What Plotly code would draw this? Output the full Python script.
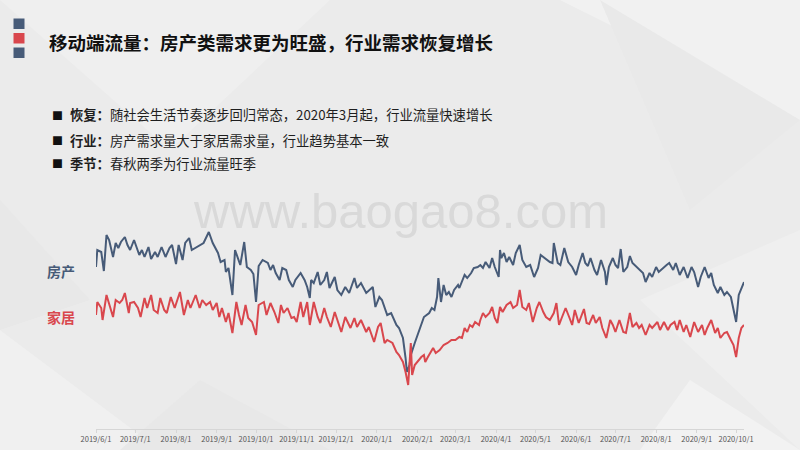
import pandas as pd
import plotly.graph_objects as go

# ---------------- data ----------------
start_date = "2019-06-01"

fc_day = [0, 1, 4, 6, 8, 10, 13, 15, 17, 19, 22, 24, 26, 29, 33, 35, 37, 40, 42, 45, 47, 50, 53, 56, 58,
          61, 63, 66, 68, 71, 73, 79, 82, 86, 89, 93, 95, 98, 99, 101, 104, 106, 108, 110, 113, 115, 118,
          120, 122, 124, 127, 131, 133, 135, 137, 140, 142, 145, 147, 150, 152, 156, 159, 161, 163, 164,
          166, 169, 171, 174, 176, 178, 182, 184, 187, 190, 193, 197, 199, 202, 206, 211, 213, 216, 218,
          220, 222, 225, 229, 231, 234, 236, 237, 239, 240, 243, 245, 248, 250, 254, 256, 258, 260, 261,
          263, 265, 267, 269, 271, 273, 276, 277, 281, 283, 286, 288, 291, 293, 295, 297, 300, 302, 304,
          307, 308, 309, 311, 313, 315, 318, 320, 323, 325, 328, 331, 334, 337, 339, 342, 346, 348, 349,
          352, 354, 357, 360, 363, 366, 368, 371, 373, 375, 377, 380, 382, 385, 388, 389, 391, 394, 396,
          398, 400, 402, 405, 407, 409, 412, 414, 417, 419, 422, 424, 427, 429, 432, 435, 437, 440, 442,
          445, 448, 451, 454, 456, 459, 461, 464, 467, 469, 471, 474, 476, 479, 481, 484, 486, 488, 490,
          492, 494]
fc_val = [133, 150, 148, 129, 165, 160, 143, 157, 152, 158, 163, 155, 150, 160, 145, 150, 143, 153, 141,
          148, 143, 153, 143, 152, 155, 136, 155, 140, 157, 162, 150, 155, 157, 168, 157, 147, 138, 140,
          128, 132, 105, 150, 142, 135, 158, 133, 130, 126, 98, 134, 140, 137, 130, 135, 127, 120, 132,
          130, 120, 113, 120, 127, 120, 113, 102, 120, 117, 128, 115, 120, 128, 112, 123, 110, 105, 113,
          107, 122, 112, 117, 107, 113, 93, 103, 100, 93, 85, 87, 75, 72, 62, 42, 28, 35, 45, 57, 65, 75,
          83, 87, 92, 90, 103, 122, 98, 115, 105, 108, 103, 110, 115, 112, 125, 122, 127, 132, 133, 135,
          132, 138, 132, 142, 133, 123, 150, 142, 147, 138, 143, 135, 147, 155, 140, 133, 135, 123, 132,
          145, 142, 138, 137, 157, 137, 135, 152, 138, 133, 125, 135, 147, 137, 134, 142, 130, 125, 140,
          128, 115, 133, 142, 135, 132, 151, 128, 133, 144, 137, 133, 130, 127, 118, 127, 123, 133, 128,
          132, 135, 137, 130, 137, 125, 133, 122, 133, 128, 113, 123, 133, 122, 127, 115, 107, 113, 105,
          108, 103, 90, 78, 105, 112, 118]

jj_day = [0, 1, 4, 5, 8, 10, 13, 15, 18, 20, 22, 25, 26, 29, 32, 34, 37, 39, 42, 44, 47, 49, 52, 54, 57,
          60, 64, 67, 70, 72, 76, 79, 81, 84, 87, 89, 92, 94, 96, 99, 101, 104, 107, 109, 111, 114, 116,
          119, 122, 124, 128, 130, 133, 136, 139, 141, 143, 146, 149, 151, 153, 156, 158, 161, 163, 166,
          169, 171, 174, 176, 179, 182, 185, 187, 190, 194, 197, 199, 202, 206, 208, 212, 215, 217, 220,
          222, 226, 229, 231, 234, 236, 238, 240, 241, 243, 246, 248, 250, 251, 253, 257, 259, 262, 265,
          268, 271, 274, 277, 279, 281, 283, 285, 287, 289, 292, 293, 295, 297, 300, 302, 304, 306, 308,
          310, 313, 316, 318, 321, 323, 325, 328, 330, 333, 336, 338, 341, 343, 346, 349, 351, 353, 355,
          358, 361, 363, 365, 368, 372, 374, 376, 379, 381, 384, 386, 389, 392, 394, 396, 399, 402, 404,
          407, 409, 412, 414, 416, 419, 422, 424, 428, 430, 433, 436, 438, 441, 443, 445, 448, 450, 453,
          456, 459, 462, 464, 466, 469, 472, 474, 476, 479, 481, 484, 486, 488, 490, 492, 494]
jj_val = [85, 98, 92, 80, 105, 97, 83, 100, 97, 100, 107, 87, 97, 98, 92, 83, 102, 92, 105, 90, 87, 102,
          90, 87, 103, 92, 108, 85, 100, 92, 105, 92, 100, 95, 98, 90, 97, 83, 92, 78, 87, 67, 98, 85, 75,
          95, 82, 78, 65, 95, 98, 85, 97, 88, 77, 95, 87, 92, 82, 83, 78, 98, 83, 98, 75, 98, 83, 77, 92,
          83, 73, 88, 75, 68, 83, 72, 82, 73, 80, 68, 73, 58, 73, 77, 57, 60, 57, 48, 45, 38, 28, 15, 57,
          25, 35, 40, 43, 45, 38, 43, 52, 47, 50, 55, 57, 60, 60, 63, 62, 72, 68, 75, 73, 78, 75, 80, 87,
          83, 87, 93, 82, 77, 93, 88, 95, 98, 92, 95, 110, 93, 90, 97, 78, 92, 98, 88, 83, 80, 87, 97, 75,
          82, 92, 82, 75, 90, 77, 91, 77, 76, 85, 77, 83, 72, 62, 80, 75, 68, 80, 68, 67, 87, 73, 77, 72,
          75, 65, 75, 72, 78, 70, 78, 70, 75, 78, 70, 80, 68, 75, 63, 78, 68, 75, 65, 72, 80, 67, 72, 62,
          67, 68, 60, 55, 43, 62, 72, 75]

series_names = ["房产", "家居"]

tick_dates = ["2019-06-01", "2019-07-01", "2019-08-01", "2019-09-01", "2019-10-01", "2019-11-01",
              "2019-12-01", "2020-01-01", "2020-02-01", "2020-03-01", "2020-04-01", "2020-05-01",
              "2020-06-01", "2020-07-01", "2020-08-01", "2020-09-01", "2020-10-01"]
tick_labels = ["2019/6/1", "2019/7/1", "2019/8/1", "2019/9/1", "2019/10/1", "2019/11/1",
               "2019/12/1", "2020/1/1", "2020/2/1", "2020/3/1", "2020/4/1", "2020/5/1",
               "2020/6/1", "2020/7/1", "2020/8/1", "2020/9/1", "2020/10/1"]

title_text = "移动端流量：房产类需求更为旺盛，行业需求恢复增长"
bullet_heads = ["恢复：", "行业：", "季节："]
bullet_bodies = ["随社会生活节奏逐步回归常态，2020年3月起，行业流量快速增长",
                 "房产需求量大于家居需求量，行业趋势基本一致",
                 "春秋两季为行业流量旺季"]
watermark = "www.baogao8.com"

# ---------------- build ----------------
t0 = pd.Timestamp(start_date)
fc_dates = [t0 + pd.Timedelta(days=d) for d in fc_day]
jj_dates = [t0 + pd.Timedelta(days=d) for d in jj_day]

BLUE = "#475b78"
RED = "#d9474d"
FONT = "Noto Sans CJK SC"

W, H = 800, 450
ML, MR, MT, MB = 96, 56, 220, 21
PW, PH = W - ML - MR, H - MT - MB


def px(x):
    return (x - ML) / PW


def py(y):
    return (H - MB - y) / PH


fig = go.Figure()
fig.add_trace(go.Scatter(x=fc_dates, y=fc_val, mode="lines", name=series_names[0],
                         line=dict(color=BLUE, width=2), hoverinfo="skip"))
fig.add_trace(go.Scatter(x=jj_dates, y=jj_val, mode="lines", name=series_names[1],
                         line=dict(color=RED, width=2), hoverinfo="skip"))

shapes = []
# faint low-poly background
polys = [
    ([(0, 0), (330, 0), (170, 150)], "#efefef"),
    ([(560, 0), (800, 0), (800, 120)], "#f1f1f1"),
    ([(600, 0), (800, 120), (690, 210)], "#e9e9e9"),
    ([(0, 330), (160, 450), (0, 450)], "#f0f0f0"),
    ([(0, 200), (90, 300), (0, 330)], "#e8e8e8"),
    ([(640, 300), (800, 230), (800, 450)], "#efefef"),
    ([(200, 380), (330, 450), (120, 450)], "#e8e8e8"),
    ([(690, 380), (800, 450), (640, 450)], "#f2f2f2"),
]
for pts, col in polys:
    path = "M " + " L ".join(f"{px(a):.4f},{py(b):.4f}" for a, b in pts) + " Z"
    shapes.append(dict(type="path", path=path, xref="paper", yref="paper",
                       fillcolor=col, line=dict(width=0), layer="below"))

# title icon squares
for (y0, y1), col in zip([(18.5, 29), (33, 43.5), (47.5, 58)], [BLUE, RED, BLUE]):
    shapes.append(dict(type="rect", xref="paper", yref="paper",
                       x0=px(13.5), x1=px(24.5), y0=py(y1), y1=py(y0),
                       fillcolor=col, line=dict(width=0)))

annotations = []
annotations.append(dict(text=f"<b>{title_text}</b>", x=px(47), y=py(42), xref="paper", yref="paper",
                        xanchor="left", yanchor="middle", showarrow=False,
                        font=dict(family=FONT, size=18.5, color="#111111")))
for i, (hd, bd) in enumerate(zip(bullet_heads, bullet_bodies)):
    yy = [115, 140, 163][i]
    annotations.append(dict(text="■", x=px(49.5), y=py(yy), xref="paper", yref="paper",
                            xanchor="left", yanchor="middle", showarrow=False,
                            font=dict(family=FONT, size=11, color="#111111")))
    annotations.append(dict(text=f"<b>{hd}</b>{bd}", x=px(68), y=py(yy), xref="paper", yref="paper",
                            xanchor="left", yanchor="middle", showarrow=False,
                            font=dict(family=FONT, size=13.3, color="#1e1e1e")))
annotations.append(dict(text=watermark, x=px(400), y=py(211), xref="paper", yref="paper",
                        xanchor="center", yanchor="middle", showarrow=False,
                        font=dict(family="Liberation Sans", size=49, color="#d9d9d9")))
annotations.append(dict(text=f"<b>{series_names[0]}</b>", x=px(45), y=py(271), xref="paper", yref="paper",
                        xanchor="left", yanchor="middle", showarrow=False,
                        font=dict(family=FONT, size=14, color=BLUE)))
annotations.append(dict(text=f"<b>{series_names[1]}</b>", x=px(45), y=py(317), xref="paper", yref="paper",
                        xanchor="left", yanchor="middle", showarrow=False,
                        font=dict(family=FONT, size=14, color=RED)))

fig.update_layout(
    width=W, height=H,
    margin=dict(l=ML, r=MR, t=MT, b=MB, pad=0, autoexpand=False),
    paper_bgcolor="#ebebeb", plot_bgcolor="rgba(0,0,0,0)",
    showlegend=False,
    shapes=shapes, annotations=annotations,
    xaxis=dict(type="date", range=[t0, t0 + pd.Timedelta(days=fc_day[-1])],
               tickvals=tick_dates, ticktext=tick_labels, showgrid=False, zeroline=False,
               showline=True, linecolor="#d6d6d6", linewidth=1,
               ticks="outside", ticklen=3, tickcolor="#d6d6d6", tickangle=0, automargin=False,
               tickfont=dict(family=FONT, size=7.5, color="#555555")),
    yaxis=dict(range=[-29, 180], visible=False, automargin=False),
)

fig.write_html("out.html", config={"displayModeBar": False},
               post_script="document.body.style.margin='0';")
